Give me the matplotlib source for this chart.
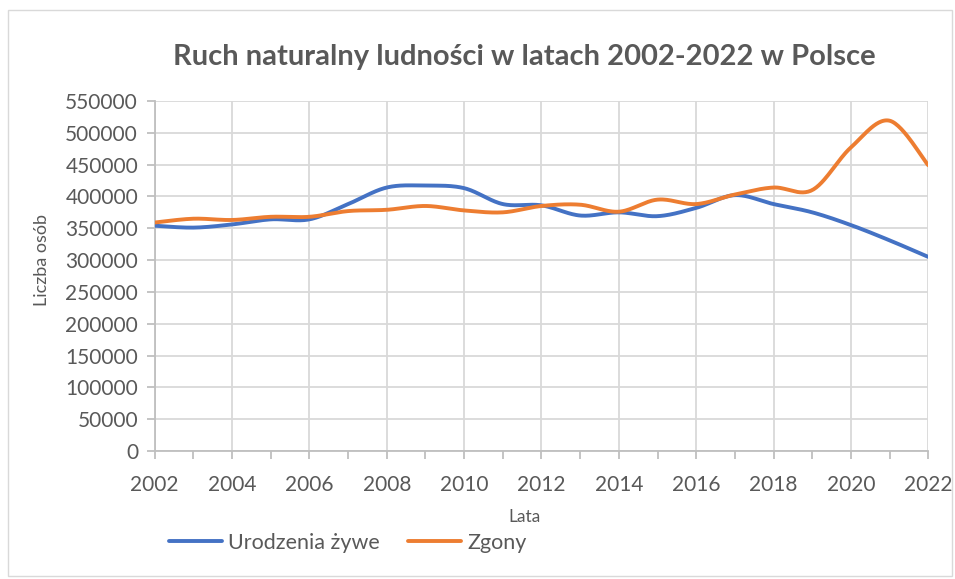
import numpy as np
import matplotlib
matplotlib.use("Agg")
import matplotlib.pyplot as plt
from matplotlib.patches import Rectangle

years = list(range(2002, 2023))
births = [354000, 351000, 356000, 364000, 364000, 388000, 414000, 417000, 413000, 388000,
          386000, 370000, 375000, 369000, 382000, 402000, 388000, 375000, 355000, 331000, 305000]
deaths = [359000, 365000, 363000, 368000, 368000, 377000, 379000, 385000, 378000, 375000,
          385000, 387000, 376000, 395000, 388000, 403000, 414000, 410000, 477000, 519000, 449000]
series_names = ["Urodzenia żywe", "Zgony"]
title = "Ruch naturalny ludności w latach 2002-2022 w Polsce"
xlabel = "Lata"
ylabel = "Liczba osób"

plt.rcParams['font.family'] = ['Lato', 'DejaVu Sans']
TXT = "#595959"


def smooth(x, y, n=30):
    x = np.asarray(x, float)
    y = np.asarray(y, float)
    px = np.concatenate([[x[0]], x, [x[-1]]])
    py = np.concatenate([[y[0]], y, [y[-1]]])
    xs, ys = [], []
    t = np.linspace(0, 1, n)
    for i in range(len(x) - 1):
        p0 = np.array([px[i + 1], py[i + 1]])
        p3 = np.array([px[i + 2], py[i + 2]])
        c1 = p0 + (np.array([px[i + 2], py[i + 2]]) - np.array([px[i], py[i]])) / 6
        c2 = p3 - (np.array([px[i + 3], py[i + 3]]) - np.array([px[i + 1], py[i + 1]])) / 6
        b = ((1 - t) ** 3)[:, None] * p0 + (3 * (1 - t) ** 2 * t)[:, None] * c1 + \
            (3 * (1 - t) * t ** 2)[:, None] * c2 + (t ** 3)[:, None] * p3
        xs.extend(b[:, 0]); ys.extend(b[:, 1])
    return np.array(xs), np.array(ys)


fig = plt.figure(figsize=(9.55, 5.79), dpi=100)
ax = fig.add_axes([0.162, 0.2211, 0.810, 0.6045])

colors = ["#4472C4", "#ED7D31"]
for vals, name, c in zip([births, deaths], series_names, colors):
    sx, sy = smooth(years, vals)
    ax.plot(sx, sy, color=c, lw=2.8, label=name, solid_capstyle='round', zorder=3)

ax.set_xlim(2002, 2022)
ax.set_ylim(0, 550000)
ax.set_yticks(np.arange(0, 550001, 50000))
ax.set_xticks(np.arange(2002, 2023, 2))
ax.set_xticks(np.arange(2002, 2023, 1), minor=True)
ax.grid(True, which='major', color="#d9d9d9", lw=1.3, zorder=0)
for s in ['top', 'right']:
    ax.spines[s].set_visible(False)
ax.spines['left'].set_color("#bfbfbf")
ax.spines['bottom'].set_color("#bfbfbf")
ax.spines['left'].set_linewidth(1.3)
ax.spines['bottom'].set_linewidth(1.3)
ax.tick_params(axis='y', which='major', length=6, color="#bfbfbf", width=1.3,
               labelsize=15, labelcolor=TXT, pad=6)
ax.tick_params(axis='x', which='both', length=6, color="#bfbfbf", width=1.3,
               labelsize=15, labelcolor=TXT, pad=11)
ax.set_ylabel(ylabel, fontsize=13, color=TXT)
ax.yaxis.set_label_coords(-0.136, 0.546)

fig.text(524 / 955, 1 - 57 / 579, title, fontsize=21, fontweight='bold', color=TXT,
         ha='center', va='center')
fig.text(524 / 955, 1 - 517 / 579, xlabel, fontsize=12.5, color=TXT, ha='center', va='center')

fig.legend(handles=ax.get_lines(), labels=series_names, loc='center left',
           bbox_to_anchor=(169 / 955, 1 - 543 / 579), ncol=2, frameon=False,
           fontsize=15.5, handlelength=2.45, columnspacing=1.35, labelcolor=TXT,
           handletextpad=0.27, borderpad=0, borderaxespad=0)

fig.patches.append(Rectangle((8 / 955, 3 / 579), 944 / 955, 566 / 579, transform=fig.transFigure,
                             fill=False, edgecolor="#d9d9d9", lw=1))

fig.savefig("out.png", dpi=100)
